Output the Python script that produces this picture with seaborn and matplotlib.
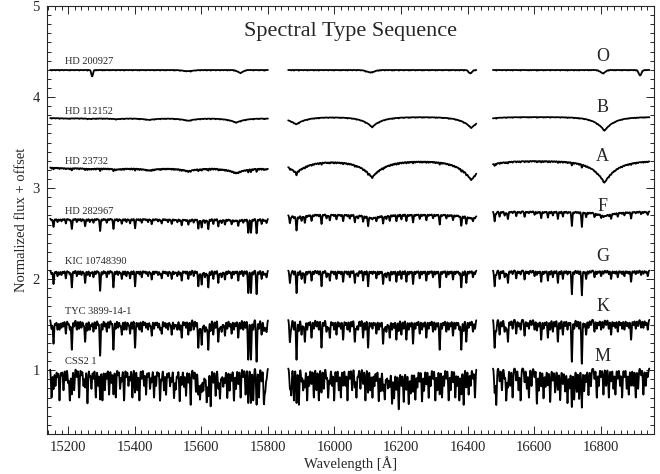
import numpy as np
import pandas as pd
import seaborn as sns
import matplotlib.pyplot as plt
from matplotlib.ticker import MultipleLocator

# detector chips (wavelength coverage, Angstrom)
chip_lo = [15146, 15861, 16476]
chip_hi = [15800, 16426, 16946]

stars = ["HD 200927", "HD 112152", "HD 23732", "HD 282967",
         "KIC 10748390", "TYC 3899-14-1", "CSS2 1"]
sptypes = ["O", "B", "A", "F", "G", "K", "M"]
# continuum level of each star on each chip (normalized flux + offset)
continuum = [[4.297, 4.297, 4.297],
             [3.770, 3.780, 3.780],
             [3.230, 3.300, 3.300],
             [2.665, 2.715, 2.745],
             [2.095, 2.095, 2.095],
             [1.555, 1.555, 1.555],
             [1.020, 1.020, 1.020]]
name_y = [4.385, 3.84, 3.29, 2.747, 2.19, 1.64, 1.10]
type_y = [4.44, 3.89, 3.35, 2.80, 2.25, 1.70, 1.15]

# O star features: centre, depth, width
o_wl = [15272, 15560, 15717, 16108, 16408, 16806, 16918]
o_depth = [0.07, 0.012, 0.03, 0.025, 0.035, 0.035, 0.06]
o_width = [2.5, 15, 8, 12, 5, 7, 4]

# hydrogen Brackett series Br20 ... Br11, depth per star (B, A, F)
brackett_wl = [15196, 15265, 15345, 15443, 15561, 15705, 15885, 16113, 16411, 16811]
brackett_B = [0.005, 0.008, 0.012, 0.02, 0.03, 0.05, 0.08, 0.11, 0.12, 0.15]
brackett_A = [0.01, 0.015, 0.02, 0.03, 0.04, 0.06, 0.13, 0.18, 0.21, 0.24]
brackett_F = [0.0, 0.0, 0.0, 0.0, 0.01, 0.015, 0.03, 0.04, 0.04, 0.05]
brackett_w = {1: 30, 2: 38, 3: 30}

# strong atomic lines (wavelength, depth)
metal_lines = np.array([
    (15156, .24), (15168, .10), (15180, .08), (15193, .14), (15211, .30),
    (15226, .10), (15240, .08), (15251, .22), (15265, .10), (15276, .12),
    (15296, .36), (15316, .12), (15336, .30), (15350, .08), (15361, .15),
    (15375, .10), (15386, .14), (15401, .28), (15421, .12), (15440, .10),
    (15451, .16), (15470, .08), (15481, .14), (15500, .10), (15511, .15),
    (15528, .10), (15541, .18), (15561, .15), (15577, .10), (15591, .28),
    (15601, .25), (15611, .12), (15621, .30), (15636, .15), (15651, .22),
    (15661, .12), (15671, .16), (15691, .14), (15711, .18), (15726, .10),
    (15741, .40), (15749, .40), (15766, .42), (15781, .15), (15796, .12),
    (15866, .22), (15886, .40), (15901, .15), (15911, .22), (15931, .18),
    (15961, .28), (15976, .12), (15986, .18), (16006, .15), (16026, .20),
    (16046, .12), (16061, .22), (16071, .10), (16086, .18), (16101, .28),
    (16126, .14), (16146, .24), (16156, .12), (16166, .18), (16186, .20),
    (16201, .15), (16216, .20), (16236, .24), (16256, .14), (16276, .18),
    (16296, .12), (16316, .30), (16336, .12), (16356, .16), (16381, .30),
    (16396, .22), (16416, .12),
    (16481, .28), (16496, .15), (16511, .12), (16521, .22), (16546, .14),
    (16571, .16), (16601, .10), (16621, .20), (16641, .18), (16656, .12),
    (16671, .22), (16686, .15), (16713, .42), (16743, .44), (16756, .15),
    (16781, .12), (16801, .10), (16831, .15), (16851, .12), (16871, .10),
    (16891, .20), (16921, .08), (16941, .10)])

# weak / molecular lines, strongest in the M star (wavelength, depth)
weak_lines = np.array([
    (15150, .20), (15162, .12), (15174, .22), (15186, .15), (15200, .10),
    (15205, .22), (15218, .15), (15233, .20), (15246, .12), (15258, .24),
    (15270, .14), (15283, .20), (15290, .12), (15303, .22), (15310, .15),
    (15323, .18), (15330, .10), (15343, .20), (15356, .14), (15368, .22),
    (15381, .12), (15393, .20), (15408, .15), (15414, .22), (15428, .12),
    (15434, .18), (15446, .14), (15458, .20), (15464, .12), (15476, .22),
    (15488, .15), (15494, .18), (15506, .12), (15518, .20), (15523, .14),
    (15535, .22), (15548, .12), (15554, .18), (15568, .24), (15584, .15),
    (15596, .20), (15606, .14), (15616, .22), (15628, .25), (15643, .18),
    (15656, .20), (15666, .12), (15678, .20), (15685, .15), (15698, .22),
    (15704, .14), (15718, .20), (15733, .18), (15756, .22), (15773, .20),
    (15788, .24), (15792, .15),
    (15870, .18), (15878, .22), (15893, .25), (15906, .15), (15918, .22),
    (15924, .12), (15938, .20), (15946, .15), (15953, .22), (15968, .14),
    (15981, .20), (15993, .12), (15999, .22), (16013, .15), (16019, .20),
    (16033, .12), (16039, .22), (16053, .15), (16066, .20), (16078, .14),
    (16093, .22), (16108, .15), (16114, .20), (16120, .12), (16133, .22),
    (16139, .15), (16151, .20), (16161, .12), (16173, .22), (16179, .18),
    (16193, .25), (16208, .20), (16223, .22), (16229, .15), (16243, .20),
    (16249, .12), (16263, .22), (16269, .15), (16283, .20), (16289, .12),
    (16303, .22), (16309, .15), (16323, .20), (16329, .12), (16343, .22),
    (16349, .15), (16363, .20), (16369, .12), (16375, .22), (16388, .25),
    (16403, .18), (16409, .12), (16422, .20),
    (16486, .25), (16503, .15), (16516, .22), (16528, .12), (16535, .20),
    (16553, .15), (16559, .22), (16578, .14), (16584, .20), (16592, .12),
    (16608, .24), (16614, .15), (16628, .20), (16634, .12), (16648, .22),
    (16663, .15), (16678, .20), (16693, .14), (16700, .22), (16706, .12),
    (16720, .20), (16728, .15), (16735, .20), (16750, .15), (16763, .18),
    (16770, .12), (16788, .20), (16794, .12), (16808, .18), (16816, .12),
    (16824, .20), (16838, .14), (16844, .18), (16858, .12), (16864, .20),
    (16878, .14), (16884, .18), (16898, .12), (16905, .20), (16912, .14),
    (16928, .18), (16935, .12)])

# per star strength of the two line lists and line width (sigma, Angstrom)
metal_scale = [0.0, 0.0, 0.08, 0.38, 0.62, 1.1, 0.95]
weak_scale = [0.03, 0.03, 0.06, 0.1, 0.2, 0.5, 1.6]
line_sigma = [1.0, 1.0, 1.2, 1.6, 1.6, 1.7, 1.6]

# broad molecular depressions of the M star: centre, depth, width
m_band_wl = [15600, 16200, 16690]
m_band_depth = [0.02, 0.05, 0.03]
m_band_width = [50, 35, 40]


def gauss(x, c, d, s):
    c, d, s = (np.broadcast_to(np.asarray(v, float), np.shape(c))[:, None]
               for v in (c, d, s))
    return (d * np.exp(-0.5 * ((x[None, :] - c) / s) ** 2)).sum(axis=0)


def cusp(x, c, d, w):
    c, d = (np.asarray(v, float)[:, None] for v in (c, d))
    return (d * np.exp(-np.abs(x[None, :] - c) / w)).sum(axis=0)


brackett = {1: brackett_B, 2: brackett_A, 3: brackett_F}

rows = []
for i, star in enumerate(stars):
    for j in range(3):
        x = np.arange(chip_lo[j], chip_hi[j] + 0.5, 0.5)
        absn = np.zeros_like(x)
        if i == 0:
            absn += gauss(x, o_wl, o_depth, o_width)
        if i in brackett:
            absn += cusp(x, brackett_wl, brackett[i], brackett_w[i])
        if metal_scale[i] > 0:
            absn += gauss(x, metal_lines[:, 0], metal_lines[:, 1] * metal_scale[i],
                          line_sigma[i])
        absn += gauss(x, weak_lines[:, 0], weak_lines[:, 1] * weak_scale[i],
                      line_sigma[i])
        if i == 6:
            absn += gauss(x, m_band_wl, m_band_depth, m_band_width)
        flux = continuum[i][j] - absn
        rows.append(pd.DataFrame({"wavelength": x, "flux": flux,
                                  "trace": f"{i}-{j}"}))
df = pd.concat(rows, ignore_index=True)

sns.set_style("ticks")
plt.rcParams["font.family"] = ["Liberation Serif", "DejaVu Serif"]

fig = plt.figure(figsize=(6.6, 4.74), dpi=100)
ax = fig.add_axes([0.071, 0.0844, 0.920, 0.903])
sns.lineplot(data=df, x="wavelength", y="flux", units="trace", estimator=None,
             color="k", lw=1.3, sort=False, ax=ax)

for i, star in enumerate(stars):
    ax.text(15191, name_y[i], star, fontsize=7.5, ha="left", va="center")
    ax.text(16806, type_y[i], sptypes[i], fontsize=13, ha="center", va="center")
ax.text(16049, 4.72, "Spectral Type Sequence", fontsize=16, ha="center", va="center")

ax.set_xlim(15136, 16960)
ax.set_ylim(0.3, 5.0)
ax.set_xticks(np.arange(15200, 16801, 200))
ax.set_yticks([1, 2, 3, 4, 5])
ax.xaxis.set_minor_locator(MultipleLocator(20))
ax.yaxis.set_minor_locator(MultipleLocator(0.1))
ax.tick_params(which="both", direction="in", top=True, right=True,
               labelsize=10.5, width=0.7)
ax.tick_params(which="major", length=6, pad=5)
ax.tick_params(which="minor", length=3)
for s in ax.spines.values():
    s.set_linewidth(0.8)
ax.set_xlabel("Wavelength [Å]", fontsize=10.5, labelpad=2)
ax.set_ylabel("Normalized flux + offset", fontsize=10.5, labelpad=3)

fig.savefig("out.png", dpi=100)
